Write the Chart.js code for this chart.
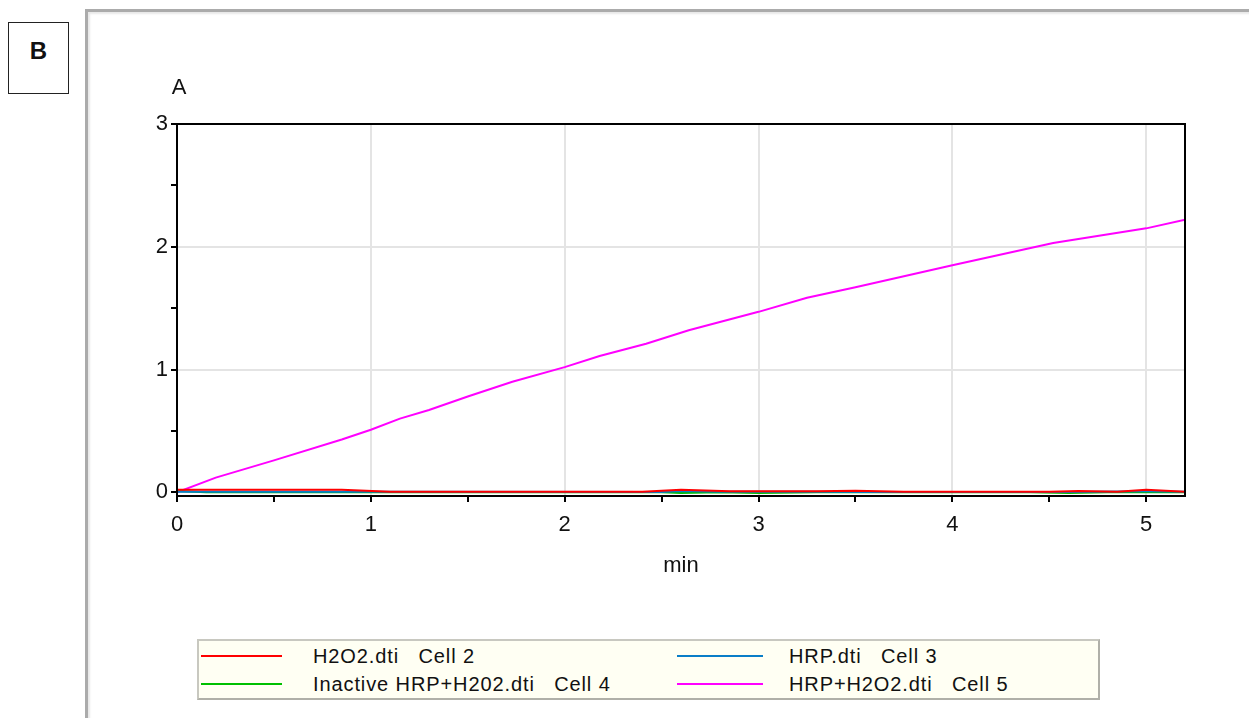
<!DOCTYPE html>
<html>
<head>
<meta charset="utf-8">
<script src="https://cdn.jsdelivr.net/npm/chart.js@4/dist/chart.umd.min.js"></script>
<style>
  html, body { margin: 0; padding: 0; background: #fff; }
  body { width: 1249px; height: 718px; position: relative; overflow: hidden;
         font-family: "Liberation Sans", Arial, sans-serif; color: #111; }
  #panel { position: absolute; left: 8px; top: 22px; width: 61px; height: 72px;
           border: 1px solid #222; font-weight: bold; font-size: 24px;
           display: flex; align-items: center; justify-content: center; padding-bottom: 14px; box-sizing: border-box; }
  #frame { position: absolute; left: 85px; top: 9px; width: 1300px; height: 800px;
           border-left: 3px solid #ababab; border-top: 3px solid #ababab;
           box-shadow: inset 2px 2px 2px #e8e8e8; }
  #wrap { position: absolute; left: 0; top: 0; width: 1249px; height: 620px; }
  #legend { position: absolute; left: 197px; top: 639px; width: 899px; height: 57px;
            background: #fffff3; border: 2px solid #b0b0a8; border-top-color: #c8c8c0; border-left-color: #c8c8c0;
            font-size: 20px; letter-spacing: 0.9px; }
  .item { position: absolute; height: 26px; line-height: 26px; white-space: pre; }
  .item i { position: absolute; top: 12px; height: 2px; }
  .item span { position: absolute; top: 0; }
</style>
</head>
<body>
<div id="frame"></div>
<div id="panel">B</div>
<div id="wrap"><canvas id="c"></canvas></div>
<div id="legend"></div>
<script>
// ---- data ----
var seriesLabels = ['H2O2.dti   Cell 2', 'HRP.dti   Cell 3', 'Inactive HRP+H202.dti   Cell 4', 'HRP+H2O2.dti   Cell 5'];
var seriesColors = ['#ff0000', '#0a7ec8', '#00c000', '#ff00ff'];

var timeCell2 = [0, 0.85, 1.1, 2.4, 2.6, 2.85, 3.3, 3.5, 3.75, 4.5, 4.65, 4.85, 5.0, 5.2];
var absCell2  = [0.02, 0.02, 0.005, 0.005, 0.02, 0.008, 0.008, 0.012, 0.005, 0.005, 0.01, 0.005, 0.02, 0.005];

var timeCell3 = [0, 0.85, 1.1, 2.5, 2.6, 2.8, 3.3, 3.55, 4.6, 5.0, 5.2];
var absCell3  = [0.005, 0.005, 0.005, 0.003, 0.01, 0.004, 0.004, 0.003, 0.003, 0.008, 0.005];

var timeCell4 = [0, 0.15, 2.5, 2.6, 2.8, 3.0, 3.3, 4.4, 4.6, 4.8, 5.2];
var absCell4  = [0.01, 0, 0, -0.005, 0, -0.005, 0, 0, -0.006, 0, 0];

var timeCell5 = [0, 0.2, 0.5, 0.85, 1.0, 1.15, 1.3, 1.5, 1.73, 2.0, 2.18, 2.42, 2.64, 3.0, 3.25, 3.5, 4.0, 4.52, 5.0, 5.2];
var absCell5  = [0, 0.12, 0.26, 0.43, 0.51, 0.6, 0.67, 0.78, 0.9, 1.02, 1.11, 1.21, 1.32, 1.47, 1.585, 1.67, 1.85, 2.03, 2.15, 2.22];

var xTicks = [0, 0.5, 1, 1.5, 2, 2.5, 3, 3.5, 4, 4.5, 5];
var yTicks = [0, 0.5, 1, 1.5, 2, 2.5, 3];

var times = [timeCell2, timeCell3, timeCell4, timeCell5];
var absVals = [absCell2, absCell3, absCell4, absCell5];

function pts(xs, ys) {
  return xs.map(function (x, i) { return { x: x, y: ys[i] }; });
}

var FONT = '"Liberation Sans", Arial, sans-serif';

// frame on top/right + "A" label above the y axis
var framePlugin = {
  id: 'frame',
  afterDatasetsDraw: function (chart) {
    var a = chart.chartArea, ctx = chart.ctx;
    ctx.save();
    ctx.strokeStyle = '#000';
    ctx.lineWidth = 2;
    ctx.strokeRect(a.left, a.top, a.right - a.left, a.bottom - a.top);
    ctx.restore();
  },
  afterDraw: function (chart) {
    var ctx = chart.ctx;
    ctx.save();
    ctx.font = '22px ' + FONT;
    ctx.fillStyle = '#111';
    ctx.textAlign = 'center';
    ctx.textBaseline = 'middle';
    ctx.fillText('A', chart.scales.y.right + 2, 88);
    ctx.restore();
  }
};

var ds = [];
for (var i = 0; i < 4; i++) {
  ds.push({
    label: seriesLabels[i],
    data: pts(times[i], absVals[i]),
    borderColor: seriesColors[i],
    backgroundColor: seriesColors[i],
    borderWidth: 2,
    pointRadius: 0,
    tension: 0,
    fill: false
  });
}

var gridCol = function (c) { return (c.tick && c.tick.value % 1 === 0) ? '#e4e4e4' : 'rgba(0,0,0,0)'; };

var chart = new Chart(document.getElementById('c'), {
  type: 'line',
  data: { datasets: ds },
  plugins: [framePlugin],
  options: {
    responsive: true,
    maintainAspectRatio: false,
    animation: false,
    events: [],
    layout: { padding: { top: 124, right: 64, left: 0, bottom: 0 } },
    plugins: { legend: { display: false }, tooltip: { enabled: false } },
    scales: {
      x: {
        type: 'linear', min: 0, max: 5.2,
        afterFit: function (s) { s.height = 124; },
        afterBuildTicks: function (s) { s.ticks = xTicks.map(function (v) { return { value: v }; }); },
        grid: { color: gridCol, lineWidth: 2, tickColor: '#000', tickLength: 6, drawTicks: true },
        border: { display: true, color: '#000', width: 2 },
        ticks: { color: '#111', padding: 10, maxRotation: 0, autoSkip: false,
                 font: { family: FONT, size: 22 },
                 callback: function (v) { return v % 1 === 0 ? String(v) : ''; } },
        title: { display: true, text: 'min', color: '#111', font: { family: FONT, size: 22 },
                 padding: { top: 12, bottom: 41 } }
      },
      y: {
        type: 'linear', min: -0.03, max: 3,
        afterFit: function (s) { s.width = 177; },
        afterBuildTicks: function (s) { s.ticks = yTicks.map(function (v) { return { value: v }; }); },
        grid: { color: gridCol, lineWidth: 2, tickColor: '#000', tickLength: 6, drawTicks: true },
        border: { display: true, color: '#000', width: 2 },
        ticks: { color: '#111', padding: 3, autoSkip: false,
                 font: { family: FONT, size: 22 },
                 callback: function (v) { return v % 1 === 0 ? String(v) : ''; } }
      }
    }
  }
});

// legend built from the chart's datasets, two columns
var leg = document.getElementById('legend');
var cols = [[0, 2], [1, 3]];
var colX = [{ line: 2, w: 81, text: 114 }, { line: 478, w: 86, text: 590 }];
cols.forEach(function (col, ci) {
  col.forEach(function (di, ri) {
    var d = chart.data.datasets[di];
    var el = document.createElement('div');
    el.className = 'item';
    el.style.left = '0px';
    el.style.top = (2 + ri * 28) + 'px';
    el.innerHTML = '<i style="left:' + colX[ci].line + 'px;width:' + colX[ci].w + 'px;background:' + d.borderColor + '"></i>' +
                   '<span style="left:' + colX[ci].text + 'px">' + d.label + '</span>';
    leg.appendChild(el);
  });
});
</script>
</body>
</html>
